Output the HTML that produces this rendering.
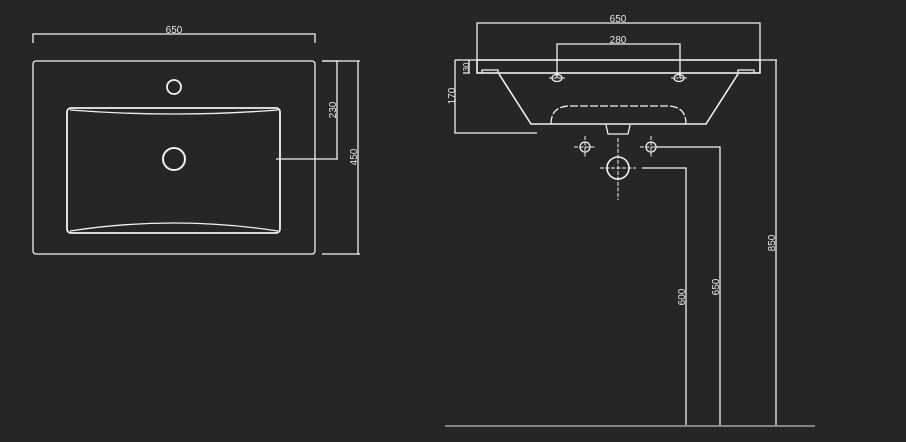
<!DOCTYPE html>
<html><head><style>
html,body{margin:0;padding:0;background:#262626;}
svg{display:block;}
text{font-family:"Liberation Sans",sans-serif;font-size:10px;fill:#e8e8e8;}
</style></head><body>
<svg width="906" height="442" viewBox="0 0 906 442" xmlns="http://www.w3.org/2000/svg">
<rect width="906" height="442" fill="#262626"/>
<g fill="none" stroke="#f2f2f2" stroke-width="1.3">
<!-- Left plan -->
<path d="M33 43V34H315V43"/>
<rect x="33" y="61" width="282" height="193" rx="3"/>
<circle cx="174" cy="87" r="7" stroke-width="1.8"/>
<rect x="67" y="108" width="213" height="125" rx="4" stroke-width="1.8"/>
<path d="M70 110Q174 118 278 110" />
<path d="M70 231Q174 215 278 231" />
<circle cx="174" cy="159" r="11" stroke-width="2"/>
<path d="M276 159H338M322 61H339M337 61V159"/>
<path d="M322 61H360M322 254H360M358 61V254"/>
<!-- Right elevation -->
<path d="M477 60V23H760V60"/>
<path d="M557 78V44H680V78"/>
<rect x="477" y="60" width="283" height="13" stroke-width="1.6"/>
<path d="M455 60H477M455 60V133H537M463 60H470M463 73H470M469 60V73"/>
<path d="M760 60H777M776 60V425"/>
<path d="M482 73V70H498V73M738 73V70H754V73"/>
<path d="M499 74L531 124H706L738 74" stroke-width="1.6"/>
<path d="M551 124Q551 106 570 106H667Q686 106 686 124" stroke-dasharray="8 2"/>
<path d="M606 125L608 134H628L630 125"/>
<ellipse cx="557" cy="78" rx="5" ry="3.5"/>
<ellipse cx="679" cy="78" rx="5" ry="3.5"/>
<path d="M549 78H565M671 78H687" stroke-dasharray="3 1.5" stroke-width="1"/>
<circle cx="585" cy="147" r="5"/>
<circle cx="651" cy="147" r="5"/>
<circle cx="618" cy="168" r="11" stroke-width="1.6"/>
<path d="M574 147H596M585 136V158M640 147H656M651 136V158M600 168H636M618 138V200" stroke-dasharray="4 1.5" stroke-width="1"/>
<path d="M656 147H720V425M642 168H686V425"/>
<path d="M445 426H815" stroke="#bbb"/>
</g>
<text x="174" y="33" text-anchor="middle">650</text>
<text transform="translate(336,110) rotate(-90)" text-anchor="middle">230</text>
<text transform="translate(357,157) rotate(-90)" text-anchor="middle">450</text>
<text x="618" y="22" text-anchor="middle">650</text>
<text x="618" y="43" text-anchor="middle">280</text>
<text transform="translate(469,67) rotate(-90)" text-anchor="middle" style="font-size:8px">30</text>
<text transform="translate(455,96) rotate(-90)" text-anchor="middle">170</text>
<text transform="translate(685,297) rotate(-90)" text-anchor="middle">600</text>
<text transform="translate(719,287) rotate(-90)" text-anchor="middle">650</text>
<text transform="translate(775,243) rotate(-90)" text-anchor="middle">850</text>
</svg>
</body></html>
